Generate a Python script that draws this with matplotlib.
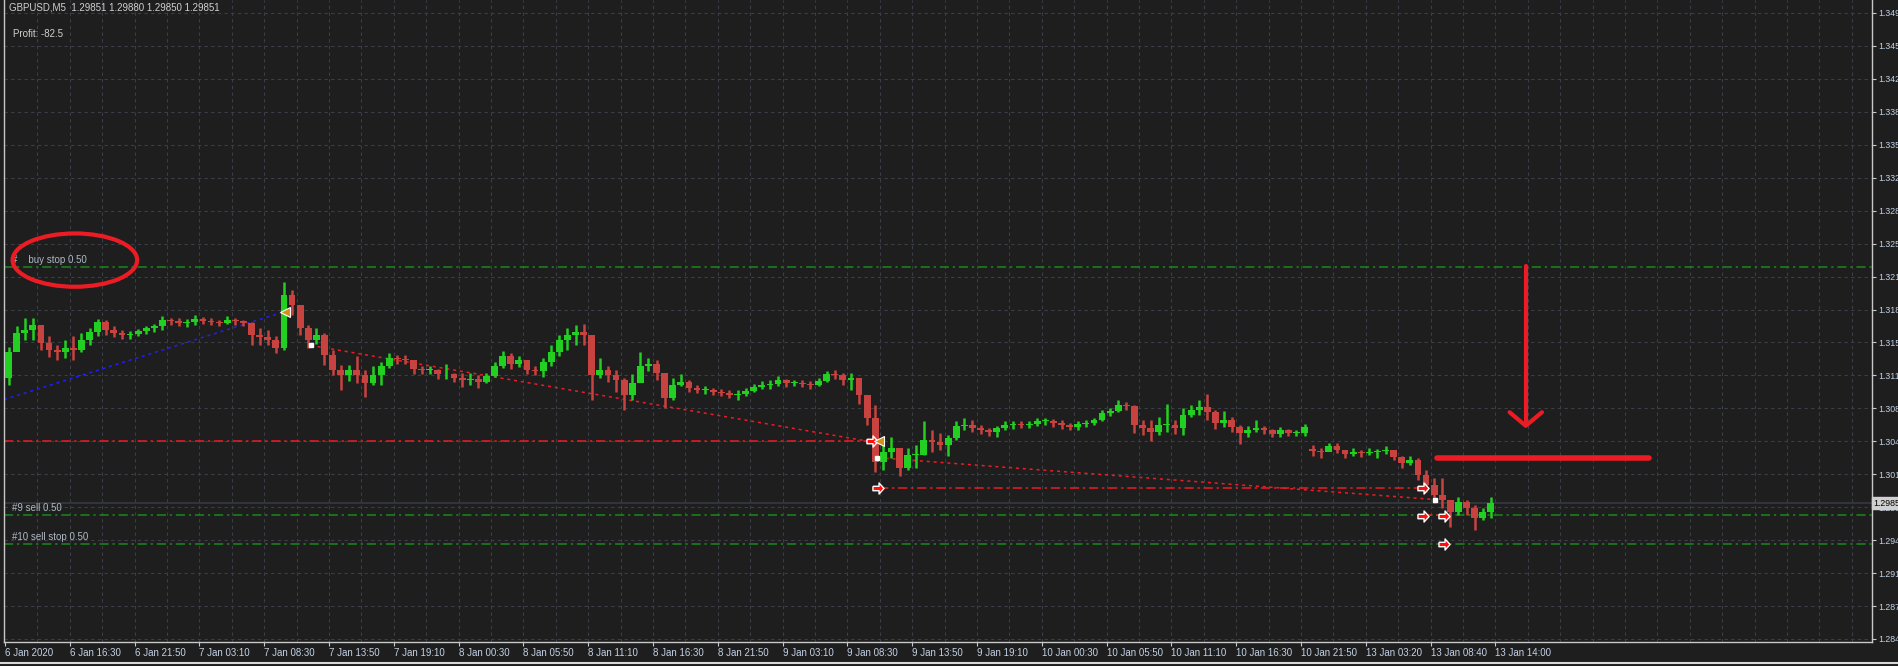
import matplotlib
matplotlib.use('Agg')
import matplotlib.pyplot as plt
import matplotlib.transforms as mtransforms
from matplotlib.patches import Ellipse
from matplotlib.lines import Line2D
from matplotlib.path import Path
import numpy as np

plt.rcParams['font.family'] = ['Liberation Sans', 'DejaVu Sans']

# GBPUSD M5 in blocks of 8 bars (bar 0 = first bar on screen)
BLOCK = 8
highs = [
    1.3146, 1.3168, 1.3176, 1.3176, 1.3169, 1.3158, 1.3148, 1.3154, 1.3158, 1.3161,
    1.3166, 1.3175, 1.3174, 1.3168, 1.3164, 1.3163, 1.3165, 1.3168, 1.3170, 1.3178,
    1.3176, 1.3176, 1.3175, 1.3179, 1.3177, 1.3176, 1.3174, 1.3178, 1.3176, 1.3174,
    1.3172, 1.3166, 1.3164, 1.3158, 1.3213, 1.3205, 1.3190, 1.3169, 1.3166, 1.3161,
    1.3143, 1.3128, 1.3128, 1.3137, 1.3123, 1.3127, 1.3131, 1.3140, 1.3138, 1.3138,
    1.3133, 1.3127, 1.3127, 1.3124, 1.3129, 1.3120, 1.3120, 1.3120, 1.3117, 1.3120,
    1.3131, 1.3142, 1.3140, 1.3137, 1.3133, 1.3127, 1.3135, 1.3148, 1.3159, 1.3166,
    1.3169, 1.3170, 1.3154, 1.3135, 1.3127, 1.3123, 1.3114, 1.3118, 1.3141, 1.3135,
    1.3133, 1.3117, 1.3114, 1.3118, 1.3112, 1.3107, 1.3106, 1.3104, 1.3103, 1.3102,
    1.3102, 1.3104, 1.3108, 1.3111, 1.3112, 1.3116, 1.3113, 1.3112, 1.3112, 1.3111,
    1.3114, 1.3122, 1.3123, 1.3120, 1.3119, 1.3114, 1.3097, 1.3086, 1.3047, 1.3053,
    1.3040, 1.3042, 1.3045, 1.3070, 1.3061, 1.3058, 1.3055, 1.3070, 1.3073, 1.3071,
    1.3066, 1.3063, 1.3065, 1.3070, 1.3070, 1.3070, 1.3070, 1.3073, 1.3073, 1.3072,
    1.3071, 1.3068, 1.3070, 1.3071, 1.3073, 1.3081, 1.3083, 1.3092, 1.3090, 1.3086,
    1.3071, 1.3071, 1.3074, 1.3087, 1.3071, 1.3083, 1.3086, 1.3092, 1.3098, 1.3081,
    1.3080, 1.3074, 1.3066, 1.3065, 1.3071, 1.3065, 1.3062, 1.3064, 1.3062, 1.3061,
    1.3067, 1.3045, 1.3042, 1.3047, 1.3047, 1.3040, 1.3042, 1.3040, 1.3042, 1.3041,
    1.3044, 1.3040, 1.3034, 1.3034, 1.3032, 1.3019, 1.3011, 1.3011, 1.2988, 1.2992,
    1.2988, 1.2983, 1.2980, 1.2992,
]
lows = [
    1.3107, 1.3143, 1.3154, 1.3154, 1.3143, 1.3136, 1.3133, 1.3135, 1.3133, 1.3141,
    1.3148, 1.3158, 1.3159, 1.3157, 1.3155, 1.3155, 1.3158, 1.3160, 1.3162, 1.3164,
    1.3169, 1.3168, 1.3167, 1.3169, 1.3170, 1.3169, 1.3168, 1.3170, 1.3169, 1.3168,
    1.3148, 1.3148, 1.3148, 1.3140, 1.3143, 1.3179, 1.3159, 1.3145, 1.3149, 1.3128,
    1.3117, 1.3102, 1.3111, 1.3109, 1.3095, 1.3107, 1.3107, 1.3125, 1.3129, 1.3129,
    1.3118, 1.3118, 1.3118, 1.3113, 1.3113, 1.3110, 1.3105, 1.3107, 1.3104, 1.3109,
    1.3115, 1.3125, 1.3124, 1.3126, 1.3118, 1.3117, 1.3115, 1.3127, 1.3137, 1.3143,
    1.3148, 1.3148, 1.3092, 1.3114, 1.3110, 1.3100, 1.3081, 1.3092, 1.3114, 1.3122,
    1.3112, 1.3083, 1.3092, 1.3106, 1.3100, 1.3099, 1.3098, 1.3097, 1.3096, 1.3094,
    1.3092, 1.3096, 1.3100, 1.3103, 1.3103, 1.3106, 1.3105, 1.3106, 1.3105, 1.3103,
    1.3106, 1.3110, 1.3113, 1.3107, 1.3102, 1.3088, 1.3066, 1.3017, 1.3019, 1.3032,
    1.3013, 1.3019, 1.3021, 1.3035, 1.3038, 1.3040, 1.3034, 1.3050, 1.3061, 1.3059,
    1.3057, 1.3054, 1.3053, 1.3061, 1.3062, 1.3063, 1.3063, 1.3065, 1.3066, 1.3064,
    1.3062, 1.3061, 1.3061, 1.3064, 1.3066, 1.3070, 1.3075, 1.3079, 1.3081, 1.3058,
    1.3055, 1.3049, 1.3055, 1.3059, 1.3057, 1.3055, 1.3074, 1.3076, 1.3071, 1.3062,
    1.3064, 1.3059, 1.3046, 1.3053, 1.3059, 1.3057, 1.3053, 1.3053, 1.3054, 1.3054,
    1.3054, 1.3034, 1.3032, 1.3040, 1.3037, 1.3032, 1.3034, 1.3033, 1.3035, 1.3032,
    1.3036, 1.3030, 1.3021, 1.3025, 1.3009, 1.2997, 1.2985, 1.2980, 1.2961, 1.2973,
    1.2973, 1.2957, 1.2968, 1.2970,
]
closes = [
    1.3141, 1.3161, 1.3164, 1.3169, 1.3150, 1.3143, 1.3141, 1.3145, 1.3143, 1.3154,
    1.3162, 1.3172, 1.3164, 1.3161, 1.3159, 1.3160, 1.3163, 1.3166, 1.3168, 1.3174,
    1.3173, 1.3171, 1.3172, 1.3175, 1.3173, 1.3172, 1.3171, 1.3174, 1.3173, 1.3171,
    1.3159, 1.3157, 1.3154, 1.3145, 1.3200, 1.3190, 1.3166, 1.3154, 1.3159, 1.3138,
    1.3123, 1.3117, 1.3123, 1.3117, 1.3109, 1.3117, 1.3127, 1.3135, 1.3134, 1.3133,
    1.3124, 1.3123, 1.3123, 1.3118, 1.3118, 1.3114, 1.3112, 1.3113, 1.3110, 1.3116,
    1.3127, 1.3137, 1.3129, 1.3133, 1.3123, 1.3122, 1.3131, 1.3141, 1.3154, 1.3159,
    1.3162, 1.3159, 1.3117, 1.3123, 1.3117, 1.3112, 1.3097, 1.3109, 1.3127, 1.3129,
    1.3120, 1.3094, 1.3107, 1.3110, 1.3104, 1.3102, 1.3102, 1.3100, 1.3099, 1.3097,
    1.3098, 1.3101, 1.3105, 1.3107, 1.3108, 1.3112, 1.3109, 1.3109, 1.3108, 1.3107,
    1.3111, 1.3118, 1.3117, 1.3112, 1.3114, 1.3097, 1.3073, 1.3028, 1.3038, 1.3042,
    1.3021, 1.3035, 1.3035, 1.3050, 1.3048, 1.3045, 1.3052, 1.3065, 1.3066, 1.3063,
    1.3061, 1.3059, 1.3063, 1.3066, 1.3067, 1.3066, 1.3067, 1.3070, 1.3070, 1.3068,
    1.3066, 1.3064, 1.3067, 1.3068, 1.3071, 1.3078, 1.3080, 1.3086, 1.3085, 1.3066,
    1.3063, 1.3059, 1.3066, 1.3066, 1.3063, 1.3076, 1.3081, 1.3084, 1.3079, 1.3068,
    1.3071, 1.3064, 1.3058, 1.3061, 1.3063, 1.3061, 1.3057, 1.3061, 1.3058, 1.3058,
    1.3064, 1.3039, 1.3038, 1.3044, 1.3040, 1.3036, 1.3038, 1.3037, 1.3038, 1.3039,
    1.3040, 1.3033, 1.3027, 1.3030, 1.3014, 1.3004, 1.2994, 1.2988, 1.2976, 1.2986,
    1.2980, 1.2970, 1.2976, 1.29851,
]
first_open = 1.3114
gap_opens = {161: 1.3041}   # weekend gap

time_labels = ['6 Jan 2020', '6 Jan 16:30', '6 Jan 21:50', '7 Jan 03:10', '7 Jan 08:30',
               '7 Jan 13:50', '7 Jan 19:10', '8 Jan 00:30', '8 Jan 05:50', '8 Jan 11:10',
               '8 Jan 16:30', '8 Jan 21:50', '9 Jan 03:10', '9 Jan 08:30', '9 Jan 13:50',
               '9 Jan 19:10', '10 Jan 00:30', '10 Jan 05:50', '10 Jan 11:10', '10 Jan 16:30',
               '10 Jan 21:50', '13 Jan 03:20', '13 Jan 08:40', '13 Jan 14:00']
price_ticks = [1.28450, 1.28790, 1.29130, 1.29470, 1.29810, 1.30150, 1.30490, 1.30830,
               1.31170, 1.31510, 1.31850, 1.32190, 1.32530, 1.32870, 1.33210, 1.33550,
               1.33890, 1.34230, 1.34570, 1.34910]
last_price = 1.29851

# orders / trades drawn by the terminal
buy_stop_price = 1.3229
sell9_price = 1.2973
sell10_price = 1.2943
old_sell_price = 1.3049        # open before the visible range, closed on 9 Jan
old_sell_close_bar = 853
blue_bars, blue_prices = [-1, 277], [1.3092, 1.3183]
red1_bars, red1_prices = [302, 853], [1.3148, 1.3049]
red2_bars, red2_prices = [863, 1411], [1.3032, 1.2989]
hl2_bars, hl2_price = [863, 1400], 1.3001
hl3_bars, hl3_price = [1400, 1421], 1.2973
arrow_bars = [856, 862, 1400, 1400, 1421, 1421]
arrow_prices = [1.3049, 1.3001, 1.3001, 1.2972, 1.2972, 1.2943]
close_bars = [277, 863]
close_prices = [1.3182, 1.3049]
white_bars = [302, 861, 1412]
white_prices = [1.3148, 1.3032, 1.2988]

BG = '#1e1e1e'
GRID = '#3b3e46'
SPINE = '#c8c8c8'
LABEL = '#c4d2e6'
UP = '#22d022'
DOWN = '#c8433f'
RED = '#ec1c24'

W, H = 1898, 666
fig = plt.figure(figsize=(W / 100, H / 100), dpi=100, facecolor=BG)
ax = fig.add_axes([4 / W, 24 / H, 1868 / W, 642 / H], facecolor=BG)
ax.set_xlim(-0.99, 1843.95)
ax.set_ylim(1.28419, 1.35044)

# grid
for p in price_ticks:
    ax.axhline(p, color=GRID, lw=0.8, dashes=(3, 3), zorder=0)
for b in range(32, 1844, 32):
    ax.axvline(b, color=GRID, lw=0.8, dashes=(3, 3), zorder=0)

# candles
n = len(closes)
opens = [first_open] + closes[:-1]
for j, p in gap_opens.items():
    opens[j] = p
opens = np.array(opens)
cl = np.array(closes)
xc = np.arange(n) * BLOCK + BLOCK / 2 - 0.5
cols = [UP if c >= o else DOWN for o, c in zip(opens, cl)]
ax.vlines(xc, lows, highs, colors=cols, lw=1.8, zorder=3)
body_lo = np.minimum(opens, cl)
body_h = np.maximum(np.abs(cl - opens), 0.00008)
ax.bar(xc, body_h, bottom=body_lo, width=BLOCK * 0.85, color=cols, lw=0, zorder=3)

# pending / trade lines
dashdot = (6, 2.5, 1.5, 2.5)
for p in [buy_stop_price, sell9_price, sell10_price]:
    ax.axhline(p, color='#1a8a1a', lw=1.1, dashes=dashdot, zorder=2)
ax.axhline(last_price, color='#353a42', lw=1.2, zorder=1)
ax.plot([-1, old_sell_close_bar], [old_sell_price] * 2, color=RED, lw=1.1, dashes=dashdot, zorder=2)
ax.plot(hl2_bars, [hl2_price] * 2, color=RED, lw=1.1, dashes=dashdot, zorder=2)
ax.plot(hl3_bars, [hl3_price] * 2, color=RED, lw=1.1, dashes=dashdot, zorder=2)
ax.plot(blue_bars, blue_prices, color='#1e1eff', lw=1.1, dashes=(2, 2.5), zorder=2)
ax.plot(red1_bars, red1_prices, color=RED, lw=1.1, dashes=(2, 2.5), zorder=2)
ax.plot(red2_bars, red2_prices, color=RED, lw=1.1, dashes=(2, 2.5), zorder=2)

arrow = Path([(-1, 0.4), (0.1, 0.4), (0.1, 1), (1, 0), (0.1, -1), (0.1, -0.4), (-1, -0.4), (-1, 0.4)])
ax.plot(arrow_bars, arrow_prices, ls='none', marker=arrow, ms=8, mfc='#ff1010', mec='white', mew=1, zorder=6)
ax.plot(close_bars, close_prices, ls='none', marker='<', ms=7, mfc='#d4901c', mec='white', mew=0.8, zorder=6)
ax.plot(white_bars, white_prices, ls='none', marker='s', ms=3, mfc='white', mec='white', zorder=6)

# order labels
ylab = mtransforms.blended_transform_factory(ax.transAxes, ax.transData)
off = mtransforms.offset_copy(ylab, fig=fig, x=0, y=2, units='dots')
for txt, p in [('#    buy stop 0.50', buy_stop_price), ('#9 sell 0.50', sell9_price),
               ('#10 sell stop 0.50', sell10_price)]:
    ax.text(0.0043, p, txt, transform=off, color='#aeb8c4', fontsize=7, va='bottom', ha='left', zorder=7)

# hand-drawn red marks
ax.add_patch(Ellipse((69, 1.3236), 123, 0.0055, fill=False, ec=RED, lw=3, zorder=8))
ax.plot([1502, 1502], [1.3230, 1.3066], color=RED, lw=3, solid_capstyle='round', zorder=8)
ax.plot([1486, 1502, 1518], [1.3079, 1.3065, 1.3079], color=RED, lw=3,
        solid_capstyle='round', solid_joinstyle='round', zorder=8)
ax.plot([1414, 1624], [1.3032, 1.3032], color=RED, lw=4, solid_capstyle='round', zorder=8)

# axes
ax.spines['top'].set_visible(False)
for s in ['left', 'right', 'bottom']:
    ax.spines[s].set_color(SPINE)
    ax.spines[s].set_linewidth(1)
ax.yaxis.tick_right()
ax.set_yticks(price_ticks)
ax.set_yticklabels(['%.5f' % p for p in price_ticks])
ax.set_xticks(np.arange(len(time_labels)) * 64)
ax.set_xticklabels(time_labels, ha='left')
ax.tick_params(axis='both', colors=SPINE, labelcolor=LABEL, labelsize=7, length=3, width=0.8,
               direction='out')
ax.tick_params(axis='y', pad=1.5, labelsize=6.3)
ax.tick_params(axis='x', pad=1)

ax.text(1.0 + 1 / 1868, last_price, '%.5f' % last_price, transform=ylab, fontsize=6.3, color='black',
        va='center', ha='left', clip_on=False, zorder=9,
        bbox=dict(boxstyle='square,pad=0.15', fc='#d0d0d0', ec='#d0d0d0'))

fig.text(9 / W, 1 - 8 / H, 'GBPUSD,M5  1.29851 1.29880 1.29850 1.29851', color='#d0d0d0',
         fontsize=7, va='center', ha='left')
fig.text(13 / W, 1 - 34 / H, 'Profit: -82.5', color='#d0d0d0', fontsize=7, va='center', ha='left')
fig.add_artist(Line2D([0, 1], [3 / H, 3 / H], color='#d8d8d8', lw=1.5, transform=fig.transFigure))

fig.savefig('out.png', dpi=100, facecolor=BG)
